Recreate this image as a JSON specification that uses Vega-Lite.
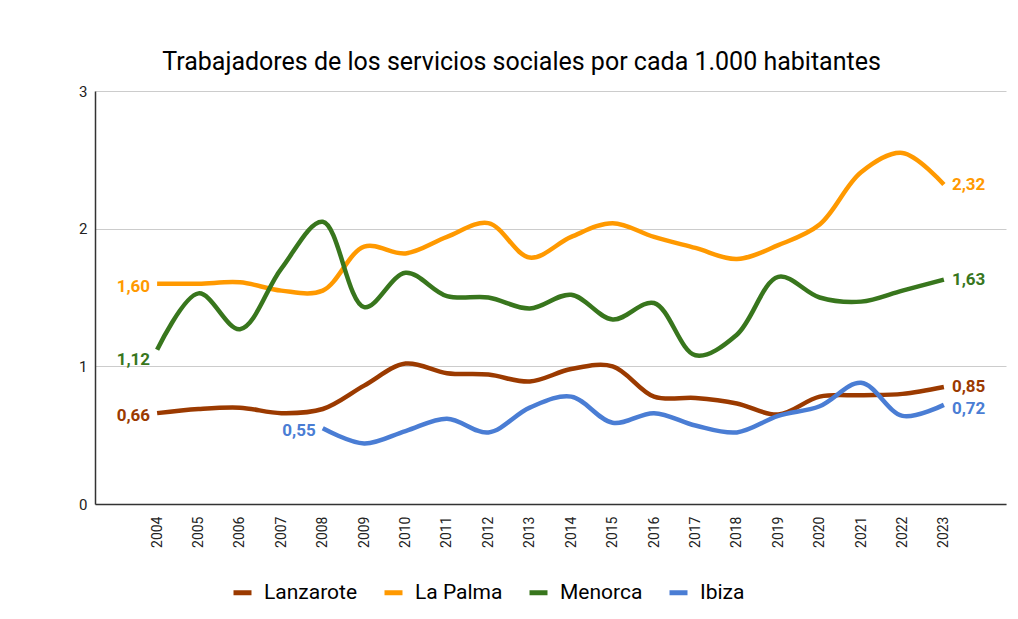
{
  "$schema": "https://vega.github.io/schema/vega-lite/v6.json",
  "width": 911,
  "height": 413,
  "autosize": {"type": "none"},
  "padding": {"left": 95, "top": 91, "right": 12, "bottom": 115},
  "background": "white",
  "config": {
    "font": "Roboto",
    "view": {"stroke": null},
    "locale": {"number": {"decimal": ",", "thousands": ".", "grouping": [3], "currency": ["", " €"]}}
  },
  "title": {
    "text": "Trabajadores de los servicios sociales por cada 1.000 habitantes",
    "font": "Roboto",
    "fontSize": 25,
    "fontWeight": "normal",
    "color": "#000000",
    "anchor": "middle",
    "dx": -29,
    "offset": 9
  },
  "data": {
    "values": [
      {"year": 2004, "island": "Lanzarote", "v": 0.66},
      {"year": 2005, "island": "Lanzarote", "v": 0.69},
      {"year": 2006, "island": "Lanzarote", "v": 0.70},
      {"year": 2007, "island": "Lanzarote", "v": 0.66},
      {"year": 2008, "island": "Lanzarote", "v": 0.69},
      {"year": 2009, "island": "Lanzarote", "v": 0.86},
      {"year": 2010, "island": "Lanzarote", "v": 1.02},
      {"year": 2011, "island": "Lanzarote", "v": 0.95},
      {"year": 2012, "island": "Lanzarote", "v": 0.94},
      {"year": 2013, "island": "Lanzarote", "v": 0.89},
      {"year": 2014, "island": "Lanzarote", "v": 0.98},
      {"year": 2015, "island": "Lanzarote", "v": 1.00},
      {"year": 2016, "island": "Lanzarote", "v": 0.78},
      {"year": 2017, "island": "Lanzarote", "v": 0.77},
      {"year": 2018, "island": "Lanzarote", "v": 0.73},
      {"year": 2019, "island": "Lanzarote", "v": 0.65},
      {"year": 2020, "island": "Lanzarote", "v": 0.78},
      {"year": 2021, "island": "Lanzarote", "v": 0.79},
      {"year": 2022, "island": "Lanzarote", "v": 0.80},
      {"year": 2023, "island": "Lanzarote", "v": 0.85},
      {"year": 2004, "island": "La Palma", "v": 1.60},
      {"year": 2005, "island": "La Palma", "v": 1.60},
      {"year": 2006, "island": "La Palma", "v": 1.61},
      {"year": 2007, "island": "La Palma", "v": 1.55},
      {"year": 2008, "island": "La Palma", "v": 1.55},
      {"year": 2009, "island": "La Palma", "v": 1.87},
      {"year": 2010, "island": "La Palma", "v": 1.82},
      {"year": 2011, "island": "La Palma", "v": 1.94},
      {"year": 2012, "island": "La Palma", "v": 2.04},
      {"year": 2013, "island": "La Palma", "v": 1.79},
      {"year": 2014, "island": "La Palma", "v": 1.94},
      {"year": 2015, "island": "La Palma", "v": 2.04},
      {"year": 2016, "island": "La Palma", "v": 1.94},
      {"year": 2017, "island": "La Palma", "v": 1.86},
      {"year": 2018, "island": "La Palma", "v": 1.78},
      {"year": 2019, "island": "La Palma", "v": 1.88},
      {"year": 2020, "island": "La Palma", "v": 2.03},
      {"year": 2021, "island": "La Palma", "v": 2.41},
      {"year": 2022, "island": "La Palma", "v": 2.55},
      {"year": 2023, "island": "La Palma", "v": 2.32},
      {"year": 2004, "island": "Menorca", "v": 1.12},
      {"year": 2005, "island": "Menorca", "v": 1.53},
      {"year": 2006, "island": "Menorca", "v": 1.27},
      {"year": 2007, "island": "Menorca", "v": 1.71},
      {"year": 2008, "island": "Menorca", "v": 2.05},
      {"year": 2009, "island": "Menorca", "v": 1.43},
      {"year": 2010, "island": "Menorca", "v": 1.68},
      {"year": 2011, "island": "Menorca", "v": 1.51},
      {"year": 2012, "island": "Menorca", "v": 1.50},
      {"year": 2013, "island": "Menorca", "v": 1.42},
      {"year": 2014, "island": "Menorca", "v": 1.52},
      {"year": 2015, "island": "Menorca", "v": 1.34},
      {"year": 2016, "island": "Menorca", "v": 1.46},
      {"year": 2017, "island": "Menorca", "v": 1.08},
      {"year": 2018, "island": "Menorca", "v": 1.23},
      {"year": 2019, "island": "Menorca", "v": 1.65},
      {"year": 2020, "island": "Menorca", "v": 1.50},
      {"year": 2021, "island": "Menorca", "v": 1.47},
      {"year": 2022, "island": "Menorca", "v": 1.55},
      {"year": 2023, "island": "Menorca", "v": 1.63},
      {"year": 2008, "island": "Ibiza", "v": 0.55},
      {"year": 2009, "island": "Ibiza", "v": 0.44},
      {"year": 2010, "island": "Ibiza", "v": 0.53},
      {"year": 2011, "island": "Ibiza", "v": 0.62},
      {"year": 2012, "island": "Ibiza", "v": 0.52},
      {"year": 2013, "island": "Ibiza", "v": 0.70},
      {"year": 2014, "island": "Ibiza", "v": 0.78},
      {"year": 2015, "island": "Ibiza", "v": 0.59},
      {"year": 2016, "island": "Ibiza", "v": 0.66},
      {"year": 2017, "island": "Ibiza", "v": 0.57},
      {"year": 2018, "island": "Ibiza", "v": 0.52},
      {"year": 2019, "island": "Ibiza", "v": 0.64},
      {"year": 2020, "island": "Ibiza", "v": 0.71},
      {"year": 2021, "island": "Ibiza", "v": 0.88},
      {"year": 2022, "island": "Ibiza", "v": 0.64},
      {"year": 2023, "island": "Ibiza", "v": 0.72}
    ]
  },
  "transform": [
    {"window": [{"op": "row_number", "as": "rn"}], "groupby": ["island"], "sort": [{"field": "year", "order": "ascending"}]},
    {"joinaggregate": [{"op": "count", "as": "n"}], "groupby": ["island"]}
  ],
  "encoding": {
    "x": {
      "field": "year",
      "type": "quantitative",
      "scale": {"domain": [2002.5, 2024.5], "nice": false, "zero": false},
      "axis": {
        "title": null,
        "values": [2004, 2005, 2006, 2007, 2008, 2009, 2010, 2011, 2012, 2013, 2014, 2015, 2016, 2017, 2018, 2019, 2020, 2021, 2022, 2023],
        "format": "d",
        "labelAngle": -90,
        "labelAlign": "right",
        "labelBaseline": "middle",
        "labelFont": "Roboto",
        "labelFontSize": 14,
        "labelColor": "#222222",
        "labelPadding": 12,
        "labelOverlap": false,
        "ticks": false,
        "grid": false,
        "domainColor": "#333333",
        "domainWidth": 1.5
      }
    },
    "y": {
      "field": "v",
      "type": "quantitative",
      "scale": {"domain": [0, 3], "nice": false},
      "axis": {
        "title": null,
        "values": [0, 1, 2, 3],
        "format": "d",
        "labelFont": "Roboto",
        "labelFontSize": 15,
        "labelColor": "#222222",
        "labelPadding": 8,
        "labelBaseline": "alphabetic",
        "labelOffset": 5,
        "ticks": false,
        "gridColor": "#cccccc",
        "gridWidth": 1,
        "domainColor": "#333333",
        "domainWidth": 1.5
      }
    },
    "color": {
      "field": "island",
      "type": "nominal",
      "scale": {
        "domain": ["Lanzarote", "La Palma", "Menorca", "Ibiza"],
        "range": ["#9b3a00", "#ff9900", "#38761d", "#4a7dd4"]
      },
      "legend": {
        "title": null,
        "orient": "none",
        "legendX": 136,
        "legendY": 490,
        "direction": "horizontal",
        "symbolType": "stroke",
        "symbolStrokeWidth": 5,
        "symbolSize": 324,
        "labelFont": "Roboto",
        "labelFontSize": 21,
        "labelColor": "#000000",
        "labelOffset": 10,
        "columnPadding": 16
      }
    }
  },
  "layer": [
    {
      "mark": {"type": "line", "interpolate": "catmull-rom", "strokeWidth": 4.5, "strokeCap": "butt"}
    },
    {
      "transform": [{"filter": "datum.rn == 1 && datum.island != 'Menorca'"}],
      "mark": {"type": "text", "align": "right", "baseline": "middle", "dx": -7, "dy": 3, "fontSize": 17, "fontWeight": "bold", "font": "Roboto"},
      "encoding": {"text": {"field": "v", "type": "quantitative", "format": ".2f"}}
    },
    {
      "transform": [{"filter": "datum.rn == 1 && datum.island == 'Menorca'"}],
      "mark": {"type": "text", "align": "right", "baseline": "middle", "dx": -7, "dy": 10, "fontSize": 17, "fontWeight": "bold", "font": "Roboto"},
      "encoding": {"text": {"field": "v", "type": "quantitative", "format": ".2f"}}
    },
    {
      "transform": [{"filter": "datum.rn == datum.n && datum.island != 'Ibiza'"}],
      "mark": {"type": "text", "align": "left", "baseline": "middle", "dx": 8, "dy": 0, "fontSize": 17, "fontWeight": "bold", "font": "Roboto"},
      "encoding": {"text": {"field": "v", "type": "quantitative", "format": ".2f"}}
    },
    {
      "transform": [{"filter": "datum.rn == datum.n && datum.island == 'Ibiza'"}],
      "mark": {"type": "text", "align": "left", "baseline": "middle", "dx": 8, "dy": 4, "fontSize": 17, "fontWeight": "bold", "font": "Roboto"},
      "encoding": {"text": {"field": "v", "type": "quantitative", "format": ".2f"}}
    }
  ]
}
